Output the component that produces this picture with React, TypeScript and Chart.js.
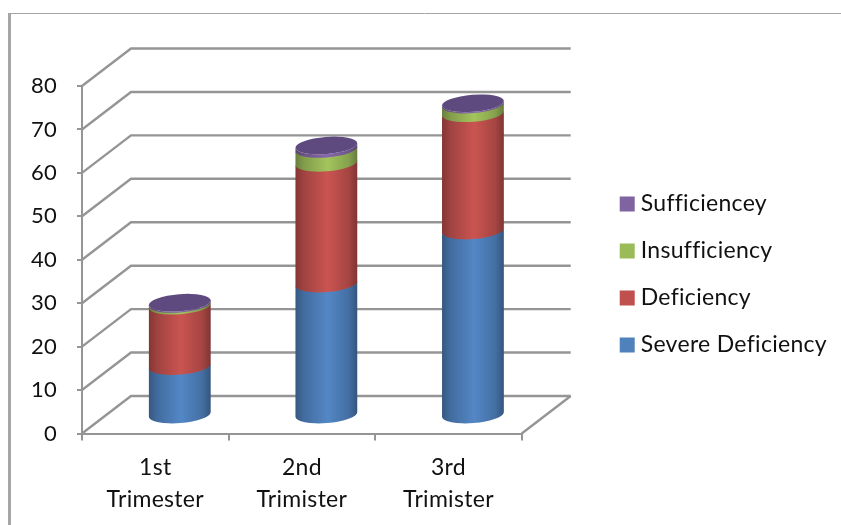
import React, { useEffect, useRef } from "react";
import { Chart, registerables, BarController, BarElement } from "chart.js";

// Chart content
const categories = [["1st", "Trimester"], ["2nd", "Trimister"], ["3rd", "Trimister"]];
const severeDeficiency = [11.2, 30.2, 42.4];
const deficiency = [13.9, 27.8, 27];
const insufficiency = [0.4, 3.2, 2];
const sufficiency = [0.3, 0.8, 0.3];

// Office palette
const BLUE = "#4F81BD";
const RED = "#C0504D";
const GREEN = "#9BBB59";
const PURPLE = "#8064A2";
const CAP = "#5F4A80";
const GRID = "#959595";
const FONT = "Lato";

// Perspective of the 3D box and cylinders
const DEPTH_X = 49;
const DEPTH_Y = 37.5;
const RADIUS_Y = 8.5;
const TILT = -0.08;

function shade(hex: string, f: number) {
  const n = parseInt(hex.slice(1), 16);
  const c = (v: number) => Math.min(255, Math.round(v * f));
  return `rgb(${c((n >> 16) & 255)},${c((n >> 8) & 255)},${c(n & 255)})`;
}

// A stacked segment painted as a slice of a cylinder standing mid-way in the box depth.
class CylinderSegment extends BarElement {
  static id = "cylinderSegment";

  draw(ctx: CanvasRenderingContext2D) {
    const { x, y, base, width } = (this as any).getProps(["x", "y", "base", "width"], true);
    const color = (this as any).options.backgroundColor as string;
    const cx = x + DEPTH_X / 2;
    const a = width / 2;
    const top = y - DEPTH_Y / 2;
    const bottom = base - DEPTH_Y / 2;

    const g = ctx.createLinearGradient(cx - a, 0, cx + a, 0);
    g.addColorStop(0, shade(color, 0.68));
    g.addColorStop(0.14, shade(color, 0.84));
    g.addColorStop(0.52, shade(color, 1.05));
    g.addColorStop(0.86, shade(color, 0.86));
    g.addColorStop(1, shade(color, 0.66));

    ctx.save();
    ctx.fillStyle = g;
    ctx.beginPath();
    ctx.ellipse(cx, bottom + 0.8, a, RADIUS_Y, TILT, 0, Math.PI);
    ctx.ellipse(cx, top, a, RADIUS_Y, TILT, Math.PI, 0, true);
    ctx.closePath();
    ctx.fill();
    ctx.restore();
  }
}

class CylinderBarController extends BarController {
  static id = "cylinderBar";
  static defaults = { ...BarController.defaults, dataElementType: "cylinderSegment" };
}

const setSpacing = (chart: any) => {
  chart.ctx.letterSpacing = "0.3px";
};

// Back wall, side wall and floor lines, plus the outer frame of the chart.
const boxPlugin = {
  id: "box3d",
  beforeLayout: setSpacing,
  beforeDraw: setSpacing,
  beforeDatasetsDraw(chart: any) {
    const { ctx, scales, chartArea } = chart;
    const y = scales.y;
    ctx.save();
    ctx.strokeStyle = GRID;
    ctx.lineWidth = 2.4;
    y.ticks.forEach((t: any) => {
      const py = y.getPixelForValue(t.value);
      ctx.beginPath();
      ctx.moveTo(chartArea.left, py);
      ctx.lineTo(chartArea.left + DEPTH_X, py - DEPTH_Y);
      ctx.lineTo(chartArea.right + DEPTH_X, py - DEPTH_Y);
      ctx.stroke();
    });
    ctx.beginPath();
    ctx.moveTo(chartArea.right, chartArea.bottom);
    ctx.lineTo(chartArea.right + DEPTH_X, chartArea.bottom - DEPTH_Y);
    ctx.stroke();

    ctx.strokeStyle = "#A6A6A6";
    ctx.lineWidth = 1;
    ctx.beginPath();
    ctx.moveTo(8, 13.5);
    ctx.lineTo(chart.width, 13.5);
    ctx.stroke();
    ctx.lineWidth = 3;
    ctx.beginPath();
    ctx.moveTo(9.5, 13);
    ctx.lineTo(9.5, chart.height);
    ctx.stroke();
    ctx.restore();
  },
  afterDatasetsDraw(chart: any) {
    const { ctx } = chart;
    const last = chart.getDatasetMeta(chart.data.datasets.length - 1);
    ctx.save();
    ctx.fillStyle = CAP;
    last.data.forEach((el: any) => {
      ctx.beginPath();
      ctx.ellipse(el.x + DEPTH_X / 2, el.y - DEPTH_Y / 2, el.width / 2, RADIUS_Y, TILT, 0, Math.PI * 2);
      ctx.fill();
    });
    ctx.restore();
  },
};

Chart.register(...registerables, CylinderSegment as any, CylinderBarController as any);

export default function App() {
  const ref = useRef<HTMLCanvasElement>(null);

  useEffect(() => {
    const dataset = (label: string, data: number[], backgroundColor: string) => ({
      label,
      data,
      backgroundColor,
      barThickness: 62,
      borderWidth: 0,
      clip: false as const,
    });
    const gutter = {
      type: "linear",
      border: { display: false },
      grid: { display: false },
      ticks: { display: false },
    };
    const chart = new Chart(ref.current as HTMLCanvasElement, {
      type: "cylinderBar" as any,
      data: {
        labels: categories as any,
        datasets: [
          dataset("Severe Deficiency", severeDeficiency, BLUE),
          dataset("Deficiency", deficiency, RED),
          dataset("Insufficiency", insufficiency, GREEN),
          dataset("Sufficiencey", sufficiency, PURPLE),
        ],
      },
      options: {
        animation: false,
        responsive: false,
        layout: { padding: { top: 24, bottom: 0, left: 8, right: 4 } },
        plugins: {
          tooltip: { enabled: false },
          legend: {
            position: "right",
            reverse: true,
            maxWidth: 300,
            labels: {
              usePointStyle: true,
              pointStyle: "rect",
              boxWidth: 4,
              boxHeight: 15,
              padding: 24,
              color: "#111",
              font: { family: FONT, size: 23 },
            },
          } as any,
        },
        scales: {
          x: {
            stacked: true,
            afterFit: (s: any) => {
              s.height = 91.5;
            },
            border: { color: GRID, width: 2 },
            grid: { drawOnChartArea: false, color: GRID, lineWidth: 2, tickLength: 7, offset: true },
            ticks: {
              color: "#111",
              padding: 11,
              maxRotation: 0,
              autoSkip: false,
              font: { family: FONT, size: 23, lineHeight: 1.4 },
            },
          },
          y: {
            stacked: true,
            min: 0,
            max: 80,
            afterFit: (s: any) => {
              s.width = 74;
            },
            border: { color: GRID, width: 2 },
            grid: { drawOnChartArea: false, color: GRID, lineWidth: 2, tickLength: 5 },
            ticks: { stepSize: 10, color: "#111", padding: 20, font: { family: FONT, size: 22 } },
          },
          // Reserves the headroom above the box and keeps the legend clear of its side wall.
          headroom: {
            ...gutter,
            axis: "x",
            position: "top",
            afterFit: (s: any) => {
              s.height = 62;
            },
          },
          gutter: {
            ...gutter,
            axis: "y",
            position: "right",
            afterFit: (s: any) => {
              s.width = 79.5;
            },
          },
        },
      } as any,
      plugins: [boxPlugin],
    });
    return () => chart.destroy();
  }, []);

  return (
    <div style={{ position: "absolute", left: 0, top: 0, width: 841, height: 525, background: "#fff" }}>
      <canvas ref={ref} width={841} height={525} style={{ display: "block" }} />
    </div>
  );
}
